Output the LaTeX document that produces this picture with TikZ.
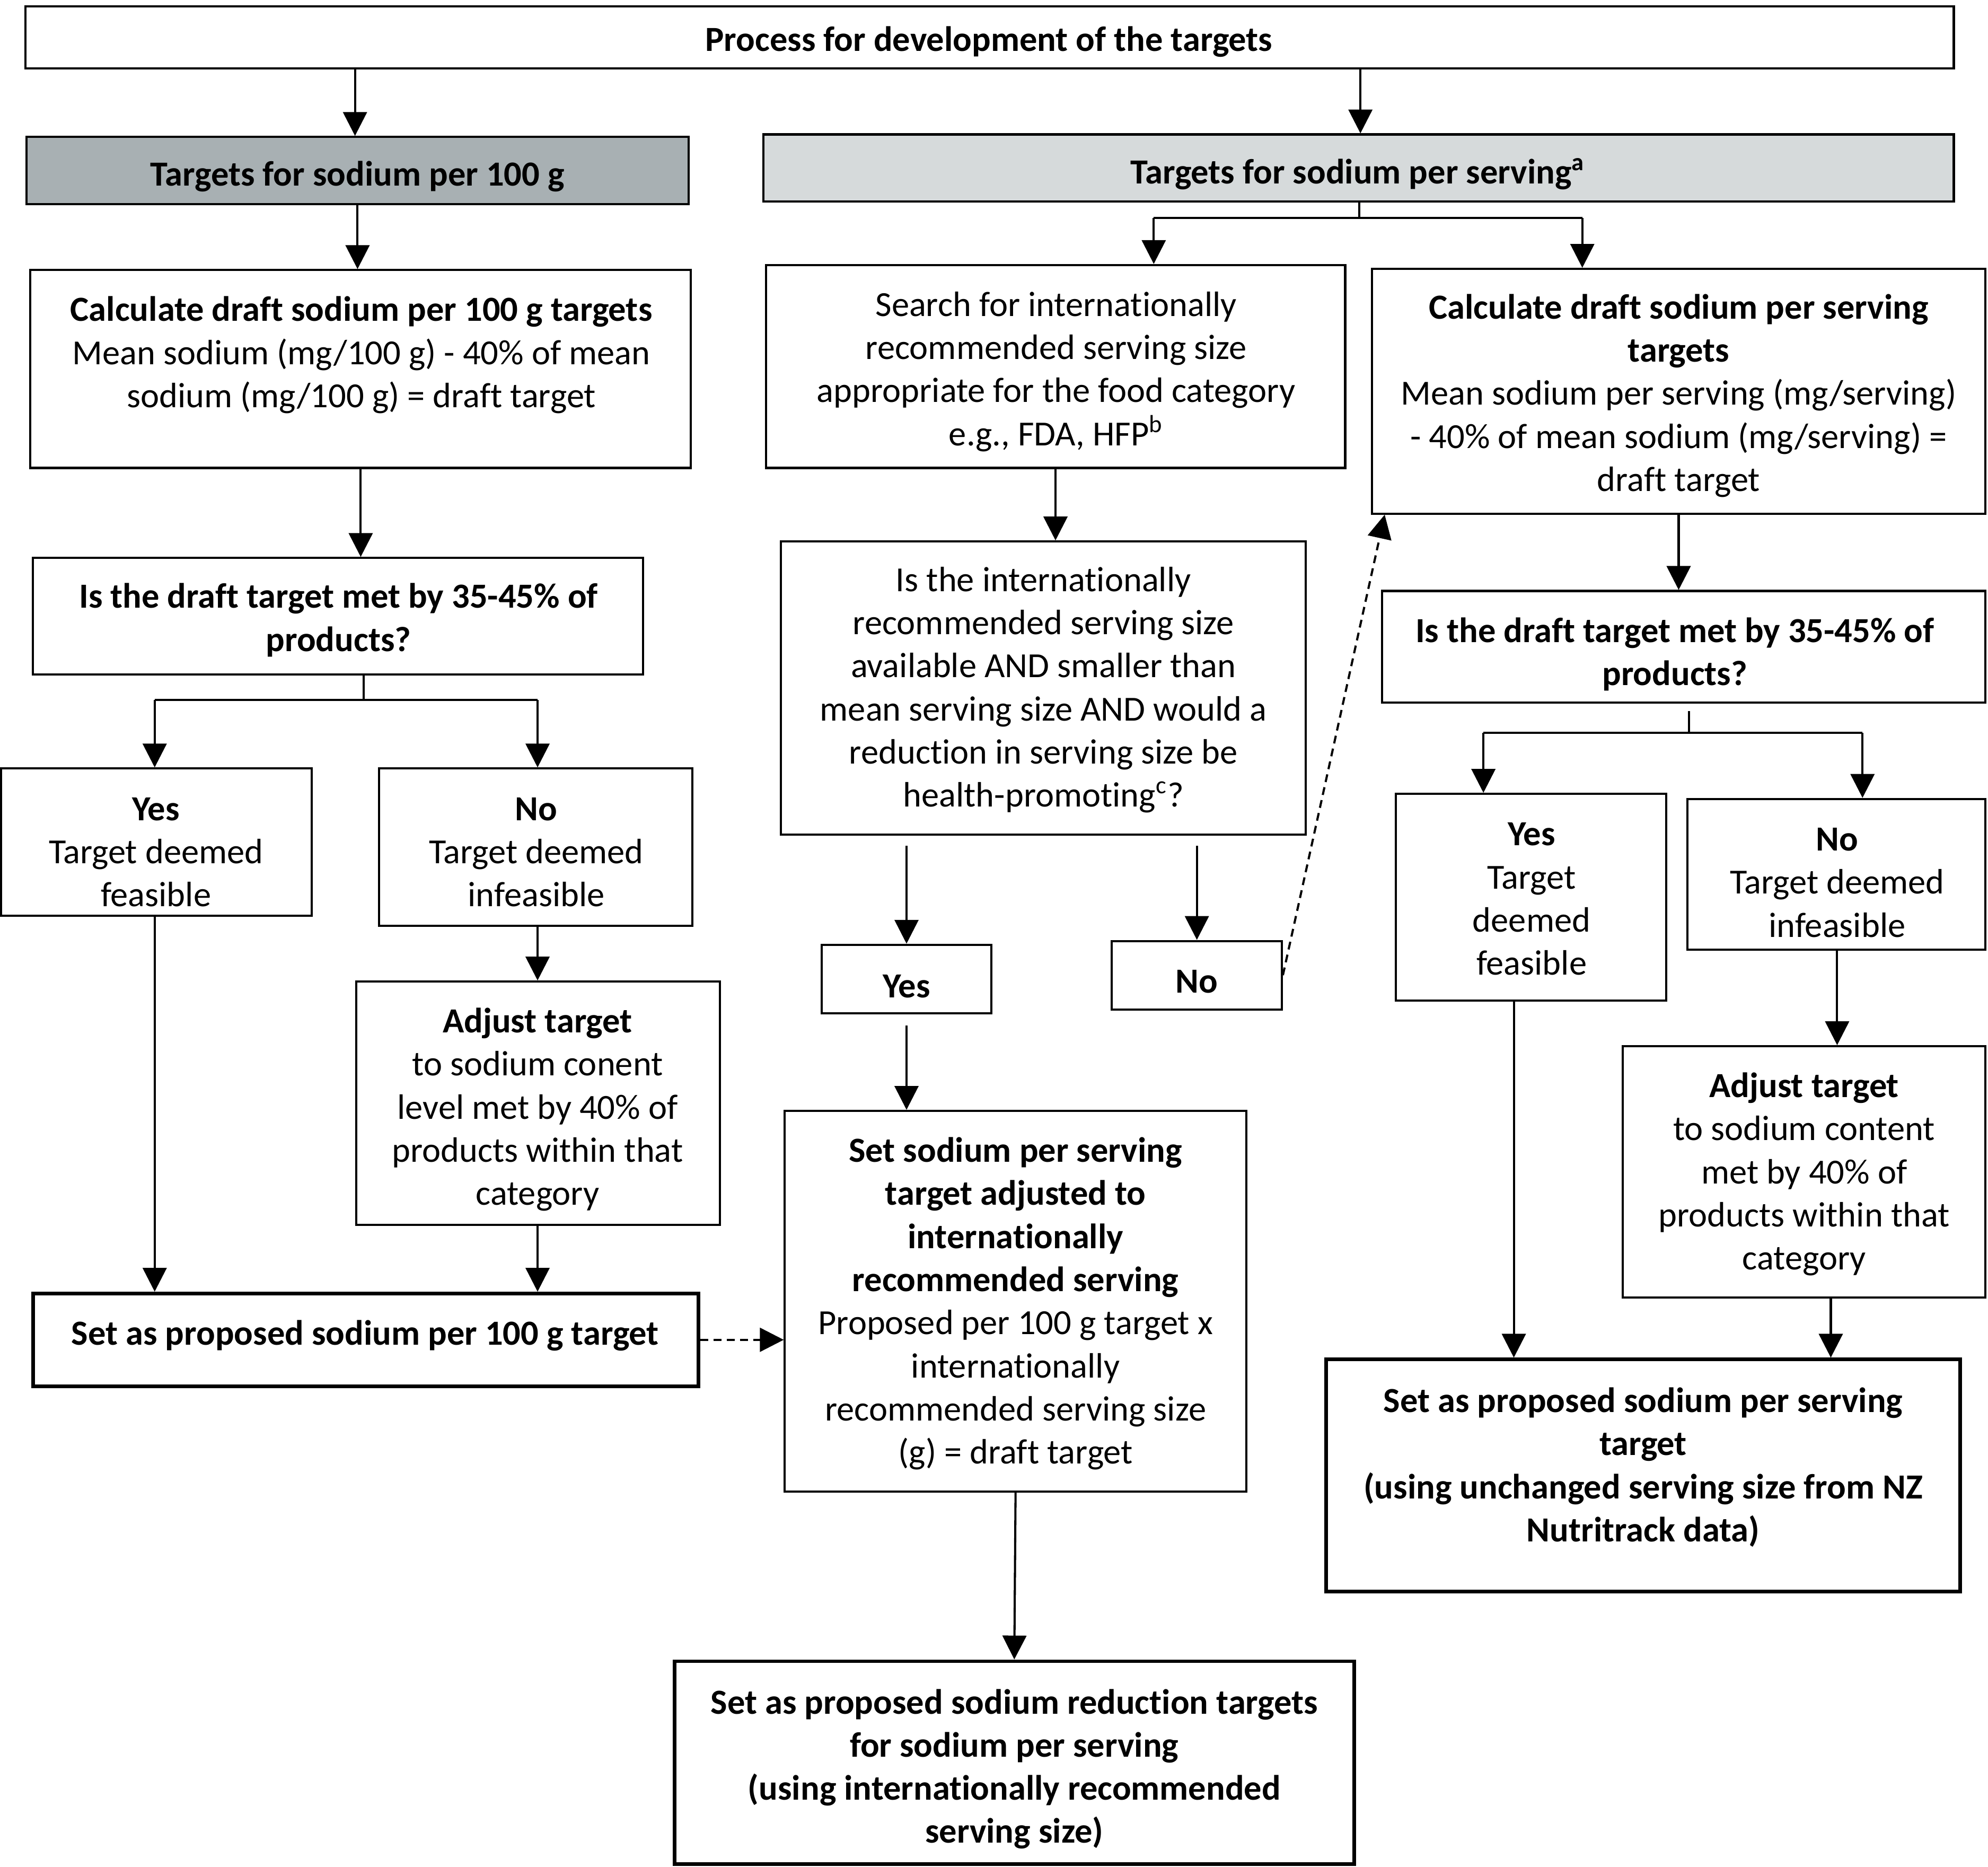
\documentclass[tikz,border=0pt]{standalone}
\usepackage{fontspec}
\setmainfont[Ligatures=NoCommon]{Carlito}
\usetikzlibrary{fit,arrows.meta}
\definecolor{darkbox}{HTML}{A8B0B3}
\definecolor{lightbox}{HTML}{D6DADB}
\tikzset{
  box/.style={draw=black, line width=0.85pt, inner sep=0pt, rectangle},
  thickbox/.style={draw=black, line width=1.45pt, inner sep=0pt, rectangle},
  txt/.style={align=center, inner sep=0pt, yshift=-1pt, font=\fontsize{13.9}{17}\selectfont},
  conn/.style={line width=0.85pt},
  arr/.style={line width=0.85pt, -{Triangle[length=9.4pt,width=9.4pt]}},
  darr/.style={line width=0.85pt, dash pattern=on 3.1pt off 2.1pt, -{Triangle[length=9.4pt,width=9.4pt]}}
}
\begin{document}
\begin{tikzpicture}[x=0.5pt,y=-0.5pt]
\useasboundingbox (0,0) rectangle (1568,1472);
% boxes
\node[box, fit={(20,5)(1541,54)}] (top) {};
\node[box, fill=darkbox, fit={(21,108)(543,161)}] (b100) {};
\node[box, fill=lightbox, fit={(602,106)(1541,159)}] (srv) {};
\node[box, fit={(24,213)(545,369)}] (calcL) {};
\node[box, fit={(604,209)(1061,369)}] (search) {};
\node[box, fit={(1082,212)(1566,405)}] (calcS) {};
\node[box, fit={(26,440)(507,532)}] (qL) {};
\node[box, fit={(616,427)(1030,658)}] (q) {};
\node[box, fit={(1090,466)(1566,554)}] (qR) {};
\node[box, fit={(1,606)(246,722)}] (yesL) {};
\node[box, fit={(299,606)(546,730)}] (noL) {};
\node[box, fit={(648,745)(782,799)}] (yesM) {};
\node[box, fit={(877,742)(1011,796)}] (noM) {};
\node[box, fit={(1101,626)(1314,789)}] (yesR) {};
\node[box, fit={(1331,630)(1566,749)}] (noR) {};
\node[box, fit={(281,774)(568,966)}] (adjL) {};
\node[box, fit={(1280,825)(1566,1023)}] (adjR) {};
\node[thickbox, fit={(26,1020)(551,1093)}] (setL) {};
\node[box, fit={(619,876)(983,1176)}] (setS) {};
\node[thickbox, fit={(1046,1072)(1546,1255)}] (setR) {};
\node[thickbox, fit={(532,1310)(1068,1470)}] (final) {};
% texts
\node[txt] (ttop) at (780,31) {\textbf{Process for development of the targets}};
\node[txt] (tb100) at (282,137) {\textbf{Targets for sodium per 100 g}};
\node[txt] (tsrv) at (1071,135) {\textbf{Targets for sodium per serving\textsuperscript{a}}};
\node[txt] (tcalcL) at (285,278) {\textbf{Calculate draft sodium per 100 g targets}\\ Mean sodium (mg/100 g) - 40\% of mean\\ sodium (mg/100 g) = draft target};
\node[txt] (tsearch) at (833,291) {Search for internationally\\ recommended serving size\\ appropriate for the food category\\ e.g., FDA, HFP\textsuperscript{b}};
\node[txt] (tcalcS) at (1324,310) {\textbf{Calculate draft sodium per serving}\\ \textbf{targets}\\ Mean sodium per serving (mg/serving)\\ - 40\% of mean sodium (mg/serving) =\\ draft target};
\node[txt] (tq) at (823,542) {Is the internationally\\ recommended serving size\\ available AND smaller than\\ mean serving size AND would a\\ reduction in serving size be\\ health-promoting\textsuperscript{c}?};
\node[txt] (tqL) at (267,487) {\textbf{Is the draft target met by 35-45\% of}\\ \textbf{products?}};
\node[txt] (tqR) at (1321,514) {\textbf{Is the draft target met by 35-45\% of}\\ \textbf{products?}};
\node[txt] (tyesL) at (123,670) {\textbf{Yes}\\ Target deemed\\ feasible};
\node[txt] (tnoL) at (423,670) {\textbf{No}\\ Target deemed\\ infeasible};
\node[txt] (tyesM) at (715,776) {\textbf{Yes}};
\node[txt] (tnoM) at (944,772) {\textbf{No}};
\node[txt] (tyesR) at (1208,707) {\textbf{Yes}\\ Target\\ deemed\\ feasible};
\node[txt] (tnoR) at (1449,694) {\textbf{No}\\ Target deemed\\ infeasible};
\node[txt] (tadjL) at (424,873) {\textbf{Adjust target}\\ to sodium conent\\ level met by 40\% of\\ products within that\\ category};
\node[txt] (tadjR) at (1423,924) {\textbf{Adjust target}\\ to sodium content\\ met by 40\% of\\ products within that\\ category};
\node[txt] (tsetL) at (288,1051) {\textbf{Set as proposed sodium per 100 g target}};
\node[txt] (tsetS) at (801,1026) {\textbf{Set sodium per serving}\\ \textbf{target adjusted to}\\ \textbf{internationally}\\ \textbf{recommended serving}\\ Proposed per 100 g target x\\ internationally\\ recommended serving size\\ (g) = draft target};
\node[txt] (tsetR) at (1296,1155) {\textbf{Set as proposed sodium per serving}\\ \textbf{target}\\ \textbf{(using unchanged serving size from NZ}\\ \textbf{Nutritrack data)}};
\node[txt] (tfinal) at (800,1393) {\textbf{Set as proposed sodium reduction targets}\\ \textbf{for sodium per serving}\\ \textbf{(using internationally recommended}\\ \textbf{serving size)}};
% split coordinates
\coordinate (sS) at (1072,172);
\coordinate (sS1) at (910,172);
\coordinate (sS2) at (1248,172);
\coordinate (sL) at (287,552);
\coordinate (sL1) at (122,552);
\coordinate (sL2) at (424,552);
\coordinate (sR) at (1332,578);
\coordinate (sR1) at (1170,578);
\coordinate (sR2) at (1469,578);
% connectors
\draw[arr] (top.south -| 280,0) -- (b100.north -| 280,0);
\draw[arr] (top.south -| 1073,0) -- (srv.north -| 1073,0);
\draw[conn] (sS |- srv.south) -- (sS);
\draw[conn] (sS1) -- (sS2);
\draw[arr] (sS1) -- (sS1 |- search.north);
\draw[arr] (sS2) -- (sS2 |- calcS.north);
\draw[arr] (search.south) -- (search.south |- q.north);
\draw[arr] (yesM.north |- q.south) ++(0,8) -- (yesM.north);
\draw[arr] (noM.north |- q.south) ++(0,8) -- (noM.north);
\draw[darr] (noM.east) -- ([xshift=5.5pt]calcS.south west);
\draw[arr] (yesM.south) ++(0,9) -- (yesM.south |- setS.north);
\draw[arr] (setS.south) -- (final.north);
% left
\draw[arr] (b100.south) -- (b100.south |- calcL.north);
\draw[arr] (calcL.south) -- (calcL.south |- qL.north);
\draw[conn] (sL |- qL.south) -- (sL);
\draw[conn] (sL1) -- (sL2);
\draw[arr] (sL1) -- (sL1 |- yesL.north);
\draw[arr] (sL2) -- (sL2 |- noL.north);
\draw[arr] (sL1 |- yesL.south) -- (sL1 |- setL.north);
\draw[arr] (sL2 |- noL.south) -- (sL2 |- adjL.north);
\draw[arr] (sL2 |- adjL.south) -- (sL2 |- setL.north);
\draw[darr] (setL.east) -- (setL.east -| setS.west);
% right
\draw[arr] (calcS.south) -- (calcS.south |- qR.north);
\draw[conn] (sR |- qR.south) ++(0,6) -- (sR);
\draw[conn] (sR1) -- (sR2);
\draw[arr] (sR1) -- (sR1 |- yesR.north);
\draw[arr] (sR2) -- (sR2 |- noR.north);
\draw[arr] (yesR.south -| 1194,0) -- (setR.north -| 1194,0);
\draw[arr] (noR.south -| 1449,0) -- (adjR.north -| 1449,0);
\draw[arr] (adjR.south -| 1444,0) -- (setR.north -| 1444,0);
\end{tikzpicture}
\end{document}
